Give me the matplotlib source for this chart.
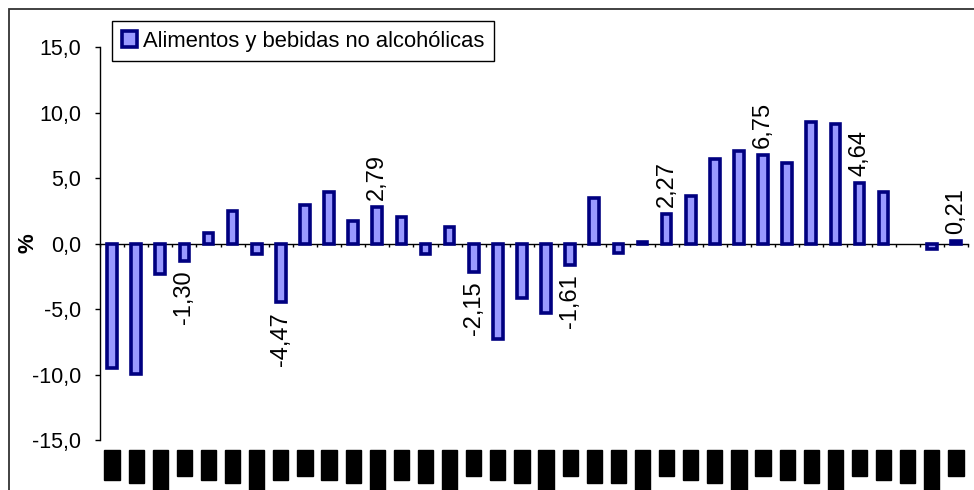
import numpy as np
import matplotlib
matplotlib.use('Agg')
import matplotlib.pyplot as plt
from matplotlib.patches import Rectangle

# ---- data ----
series_name = "Alimentos y bebidas no alcohólicas"
values = [-9.45, -9.95, -2.32, -1.30, 0.85, 2.47, -0.80, -4.47, 2.93, 3.95,
          1.73, 2.79, 2.04, -0.80, 1.27, -2.15, -7.28, -4.10, -5.32, -1.61,
          3.50, -0.74, 0.10, 2.27, 3.66, 6.49, 7.05, 6.75, 6.18, 9.28,
          9.14, 4.64, 3.95, np.nan, -0.40, 0.21]
# category labels (obscured as black blocks in the reference)
periods = ["II-00", "III-00", "IIII-000", "I-00", "II-00", "III-00", "IIII-000", "II-00", "I-00", "II-00",
           "III-00", "IIII-000", "II-00", "III-00", "IIII-000", "I-00", "II-00", "III-00", "IIII-000", "I-00",
           "III-00", "III-00", "IIII-000", "I-00", "II-00", "III-00", "IIII-000", "I-00", "II-00", "III-00",
           "IIII-000", "I-00", "II-00", "III-00", "IIII-000", "I-00"]
label_idx = [3, 7, 11, 15, 19, 23, 27, 31, 35]
label_text = ["-1,30", "-4,47", "2,79", "-2,15", "-1,61", "2,27", "6,75", "4,64", "0,21"]
ytick_values = [-15, -10, -5, 0, 5, 10, 15]
ytick_labels = ["-15,0", "-10,0", "-5,0", "0,0", "5,0", "10,0", "15,0"]
ylabel = "%"

plt.rcParams['font.family'] = ['Liberation Sans', 'DejaVu Sans']

W, H = 974, 490
fig = plt.figure(figsize=(W / 100, H / 100), dpi=100)
ax = fig.add_axes([100 / W, 49.7 / H, 868 / W, 393 / H])

x = np.arange(len(values))
ax.bar(x, values, width=0.40, color='#9999FF', edgecolor='#000080',
       linewidth=2.6, label=series_name, zorder=3)

for i, t in zip(label_idx, label_text):
    v = values[i]
    ax.annotate(t, (x[i], v), xytext=(0, 5 if v >= 0 else -7),
                textcoords='offset points', rotation=90, ha='center',
                va='bottom' if v >= 0 else 'top', fontsize=17)

ax.set_xlim(-0.5, len(values) - 0.5)
ax.set_ylim(-15, 15)

for s in ('top', 'right'):
    ax.spines[s].set_visible(False)
ax.spines['left'].set_linewidth(1.0)
ax.spines['bottom'].set_position(('data', 0))
ax.spines['bottom'].set_linewidth(1.0)

ax.set_xticks(np.arange(-0.5, len(values), 1.0))
ax.tick_params(axis='x', direction='out', length=2.5, width=1, labelbottom=False)
ax.set_yticks(ytick_values, ytick_labels)
ax.tick_params(axis='y', direction='out', length=3.6, width=1, pad=10, labelsize=15.5)

secax = ax.secondary_xaxis('bottom')
secax.spines['bottom'].set_visible(False)
secax.tick_params(axis='x', length=0, pad=8, labelsize=9.5, labelrotation=90)
secax.set_xticks(x, periods, color='black',
                 bbox=dict(boxstyle='square,pad=0.12', fc='black', ec='black'))

fig.text(28 / W, 1 - 243 / H, ylabel, rotation=90, ha='center', va='center',
         fontsize=16, fontweight='bold')

leg = ax.legend(loc='upper left', bbox_to_anchor=(112 / W, 1 - 20.7 / H),
                bbox_transform=fig.transFigure, borderaxespad=0, frameon=True,
                fancybox=False, edgecolor='black', framealpha=1, fontsize=15.8,
                handlelength=0.7, handleheight=0.7, handletextpad=0.25,
                borderpad=0.45)
leg.get_frame().set_linewidth(1.0)

fig.add_artist(Rectangle((8.5 / W, -0.5), 1.5, 1.5 - 9 / H, transform=fig.transFigure,
                         fill=False, edgecolor='#333333', linewidth=1.3))

fig.savefig('out.png', dpi=100)
